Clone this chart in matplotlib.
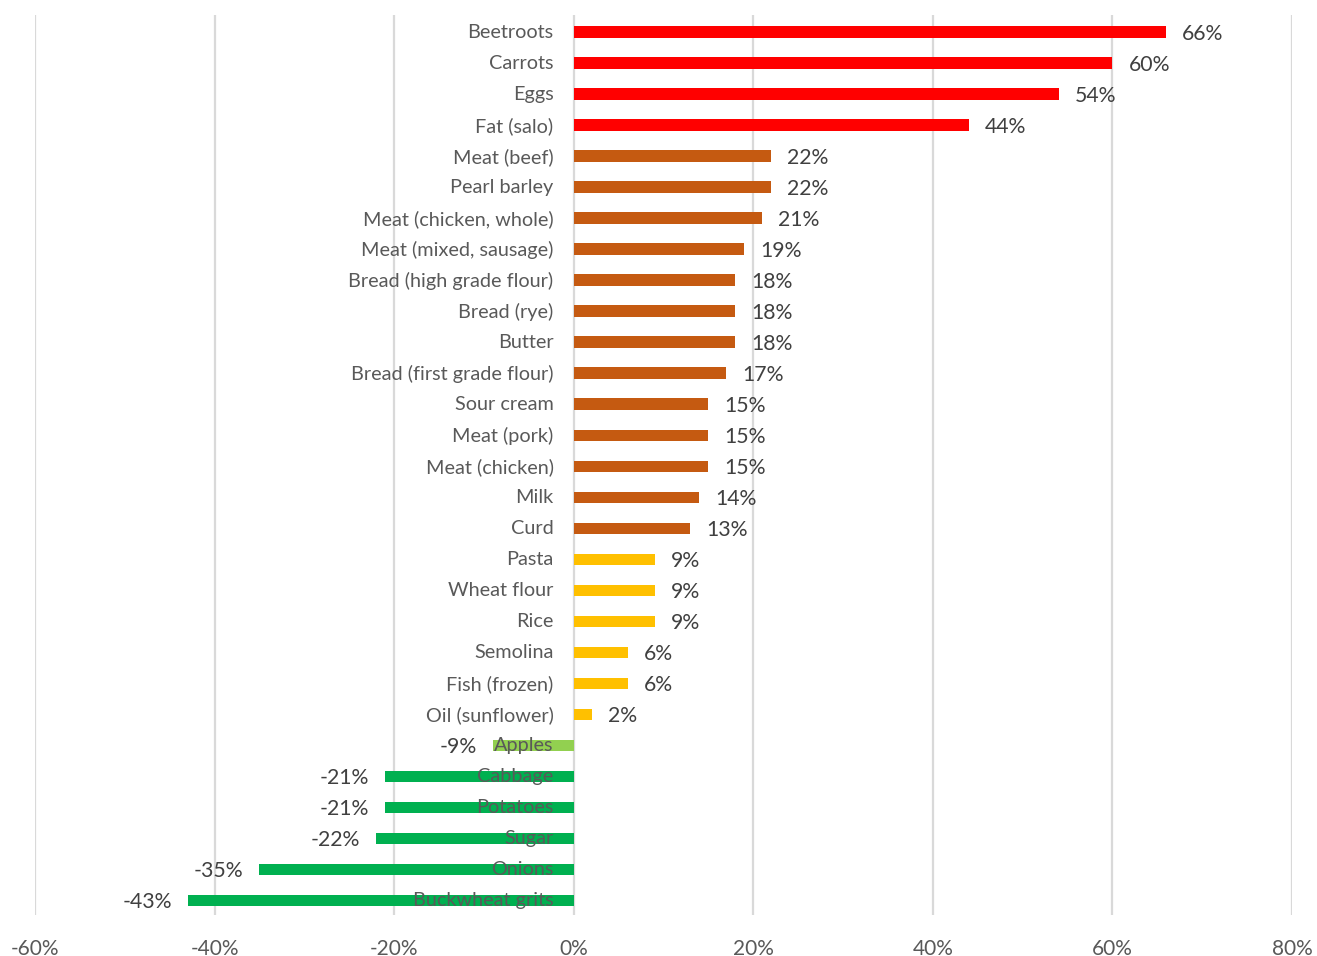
import matplotlib.pyplot as plt
import numpy as np

items = ['Beetroots', 'Carrots', 'Eggs', 'Fat (salo)', 'Meat (beef)', 'Pearl barley',
         'Meat (chicken, whole)', 'Meat (mixed, sausage)', 'Bread (high grade flour)',
         'Bread (rye)', 'Butter', 'Bread (first grade flour)', 'Sour cream', 'Meat (pork)',
         'Meat (chicken)', 'Milk', 'Curd', 'Pasta', 'Wheat flour', 'Rice', 'Semolina',
         'Fish (frozen)', 'Oil (sunflower)', 'Apples', 'Cabbage', 'Potatoes', 'Sugar',
         'Onions', 'Buckwheat grits']
change = [66, 60, 54, 44, 22, 22, 21, 19, 18, 18, 18, 17, 15, 15, 15, 14, 13,
          9, 9, 9, 6, 6, 2, -9, -21, -21, -22, -35, -43]
group = ['red'] * 4 + ['orange'] * 13 + ['yellow'] * 6 + ['lightgreen'] + ['green'] * 5
palette = {'red': '#FF0000', 'orange': '#C55A11', 'yellow': '#FFC000',
           'lightgreen': '#92D050', 'green': '#00B050'}
xticks = [-60, -40, -20, 0, 20, 40, 60, 80]

plt.rcParams['font.family'] = ['Lato', 'DejaVu Sans']

fig = plt.figure(figsize=(13.17, 9.56), dpi=100)
ax = fig.add_axes([35 / 1317, 41 / 956, (1292 - 35) / 1317, 900 / 956])

y = np.arange(len(items))
vals = np.array(change) / 100
ax.barh(y, vals, height=0.36, color=[palette[g] for g in group], zorder=2)

for t in xticks:
    ax.axvline(t / 100, color='#d9d9d9', lw=1.6, zorder=1)

ax.set_xlim(-0.6, 0.8)
ax.set_ylim(len(items) - 0.52, -0.55)
for s in ax.spines.values():
    s.set_visible(False)
ax.set_yticks([])
ax.set_xticks([t / 100 for t in xticks])
ax.set_xticklabels([f'{t}%' for t in xticks], fontsize=15, color='#595959')
ax.tick_params(axis='x', length=0, pad=17)

for i, (name, v) in enumerate(zip(items, vals)):
    ax.annotate(name, (0, i), xytext=(-14.5, -0.5), textcoords='offset points',
                ha='right', va='center', fontsize=14.3, color='#595959', zorder=3)
    if v >= 0:
        ax.annotate(f'{change[i]}%', (v, i), xytext=(11.5, -1.5), textcoords='offset points',
                    ha='left', va='center', fontsize=15.3, color='#404040', zorder=3)
    else:
        ax.annotate(f'{change[i]}%', (v, i), xytext=(-11.5, -1.5), textcoords='offset points',
                    ha='right', va='center', fontsize=15.3, color='#404040', zorder=3)

fig.savefig('out.png', dpi=100)
